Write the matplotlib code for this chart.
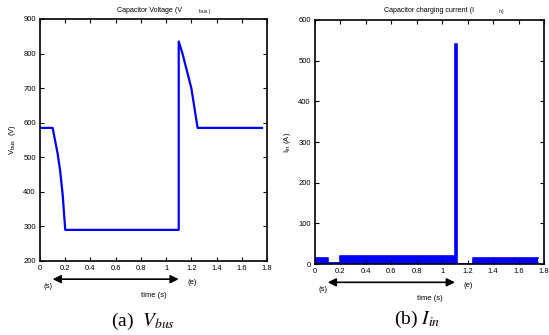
import matplotlib
matplotlib.use("Agg")
import matplotlib.pyplot as plt

plt.rcParams['font.family'] = ['Liberation Sans', 'DejaVu Sans']

# capacitor voltage (V)
vbus_t = [0, 0.1, 0.14, 0.16, 0.18, 0.2, 1.1, 1.1, 1.13, 1.2, 1.25, 1.76]
vbus_v = [585, 585, 510, 460, 390, 290, 290, 835, 800, 700, 585, 585]

# charging current (A): lower and upper edges of the ripple band
iin_t = [0, 0.1, 0.1, 0.2, 0.2, 1.1, 1.1, 1.115, 1.115, 1.24, 1.24, 1.75]
iin_lo = [2, 2, 2, 2, 2, 2, 2, 2, 1, 1, 2, 2]
iin_hi = [14, 14, 3, 3, 20, 20, 540, 540, 1, 1, 15, 15]

xticks = [0, 0.2, 0.4, 0.6, 0.8, 1, 1.2, 1.4, 1.6, 1.8]
xlabels = ['0', '0.2', '0.4', '0.6', '0.8', '1', '1.2', '1.4', '1.6', '1.8']

W, H = 549, 335
fig = plt.figure(figsize=(W / 100, H / 100), dpi=100)
ax1 = fig.add_axes([0.0729, 0.2209, 0.4134, 0.7224])
ax2 = fig.add_axes([0.5738, 0.2119, 0.4171, 0.7284])


def style(ax):
    ax.set_xlim(0, 1.8)
    ax.set_xticks(xticks)
    ax.set_xticklabels(xlabels)
    ax.tick_params(direction='in', top=True, right=True, labelsize=5.5,
                   length=3, width=0.8, pad=3)
    for s in ax.spines.values():
        s.set_linewidth(1.2)
    ax.set_xlabel('time (s)', fontsize=5.5, labelpad=14)
    tr = ax.get_xaxis_transform()
    ax.annotate('', xy=(0.1, -0.075), xytext=(1.1, -0.075), xycoords=tr,
                textcoords=tr, annotation_clip=False,
                arrowprops=dict(arrowstyle='<|-|>', color='black', lw=1.2,
                                mutation_scale=12, shrinkA=0, shrinkB=0))
    ax.text(0.025, -0.105, '(s)', transform=tr, fontsize=5.5, va='center')
    ax.text(1.17, -0.09, '(e)', transform=tr, fontsize=5.5, va='center')


def title(x_main, x_sub, main, sub):
    fig.text(x_main / W, 1 - 10 / H, main, fontsize=5.1, va='center')
    fig.text(x_sub / W, 1 - 12 / H, sub, fontsize=3.6, va='center')


ax1.plot(vbus_t, vbus_v, color='blue', lw=1.6)
ax1.set_ylim(200, 900)
ax1.set_yticks(range(200, 901, 100))
style(ax1)
ax1.set_ylabel(r'V$_{\rm bus}$  (V)', fontsize=5.5, labelpad=4)
title(117, 199, 'Capacitor Voltage (V', 'bus )')

ax2.fill_between(iin_t, iin_lo, iin_hi, color='blue', lw=0)
ax2.plot(iin_t, iin_hi, color='blue', lw=1.2)
ax2.plot(iin_t, iin_lo, color='blue', lw=1.2)
ax2.set_ylim(0, 600)
ax2.set_yticks(range(0, 601, 100))
style(ax2)
ax2.set_ylabel(r'I$_{\rm in}$ (A)', fontsize=5.5, labelpad=4)
title(384, 499, 'Capacitor charging current (I', 'in)')

fig.text(0.26, 0.04, r'(a)  $V_{bus}$', fontsize=14, ha='center', va='center',
         family='Liberation Serif', math_fontfamily='stix')
fig.text(0.76, 0.045, r'(b) $I_{in}$', fontsize=14, ha='center', va='center',
         family='Liberation Serif', math_fontfamily='stix')

fig.savefig('out.png', dpi=100)
